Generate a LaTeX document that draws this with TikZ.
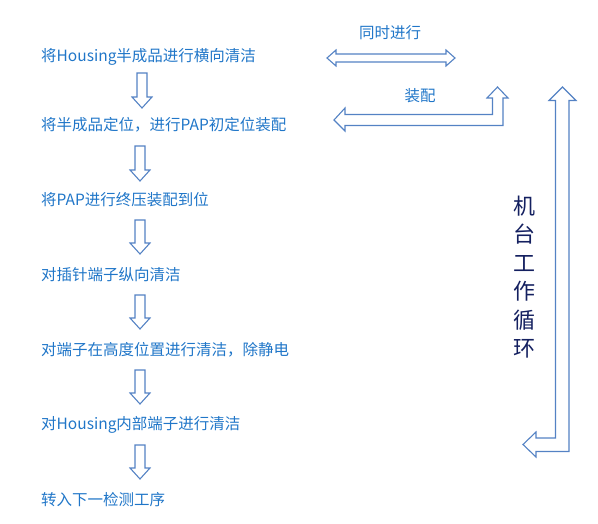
\documentclass[tikz,border=0pt]{standalone}
\usepackage{fontspec}
\setmainfont{Noto Sans CJK SC}
\definecolor{txtblue}{RGB}{32,118,200}
\definecolor{navy}{RGB}{20,32,96}
\definecolor{arrline}{RGB}{84,130,196}
\begin{document}
\begin{tikzpicture}[x=1pt,y=-1pt,
  steptext/.style={anchor=west,inner sep=0pt,text=txtblue,font=\fontsize{15.5}{18}\selectfont},
  lbltext/.style={inner sep=0pt,text=txtblue,font=\fontsize{15.5}{18}\selectfont},
  blockarrow/.style={draw=arrline,fill=white,line width=1.1pt,line join=miter}]
\useasboundingbox (0,0) rectangle (598,524);
% step texts
\node[steptext] (s1) at (41,57) {将Housing半成品进行横向清洁};
\node[steptext] (s2) at (41,125) {将半成品定位，进行PAP初定位装配};
\node[steptext] (s3) at (41,200) {将PAP进行终压装配到位};
\node[steptext] (s4) at (41,275) {对插针端子纵向清洁};
\node[steptext] (s5) at (41,350) {对端子在高度位置进行清洁，除静电};
\node[steptext] (s6) at (41,425) {对Housing内部端子进行清洁};
\node[steptext] (s7) at (41,500) {转入下一检测工序};
% down block arrows
\newcommand{\downblock}[3]{%
  \draw[blockarrow] (#1-5,#2) -- (#1+5,#2) -- (#1+5,#3-11) -- (#1+10,#3-11)
    -- (#1,#3) -- (#1-10,#3-11) -- (#1-5,#3-11) -- cycle;}
\downblock{142}{73}{108}
\downblock{140}{146}{181}
\downblock{140}{220}{254}
\downblock{140}{295}{329}
\downblock{140}{370}{404}
\downblock{140}{445}{479}
% double horizontal arrow
\draw[blockarrow] (327,58) -- (336,50) -- (336,54) -- (446,54) -- (446,50) -- (455,58)
  -- (446,66) -- (446,62) -- (336,62) -- (336,66) -- cycle;
\node[lbltext] (l1) at (390,33) {同时进行};
% L-shaped arrow (assembly)
\draw[blockarrow] (334,120) -- (345,108) -- (345,114.5) -- (492.5,114.5) -- (492.5,98)
  -- (487,98) -- (497.5,87) -- (508,98) -- (503,98) -- (503,125.5) -- (345,125.5)
  -- (345,131) -- cycle;
\node[lbltext] (l2) at (420,96) {装配};
% big cycle arrow
\draw[blockarrow] (523,444.5) -- (536,432) -- (536,438) -- (555.5,438) -- (555.5,100.5)
  -- (549,100.5) -- (562.5,87) -- (576,100.5) -- (569,100.5) -- (569,451.5) -- (536,451.5)
  -- (536,457) -- cycle;
\node[inner sep=0pt,text=navy,align=center,font=\fontsize{22}{28.5}\selectfont] (cyc) at (524,277)
  {机\\台\\工\\作\\循\\环};
\end{tikzpicture}
\end{document}
